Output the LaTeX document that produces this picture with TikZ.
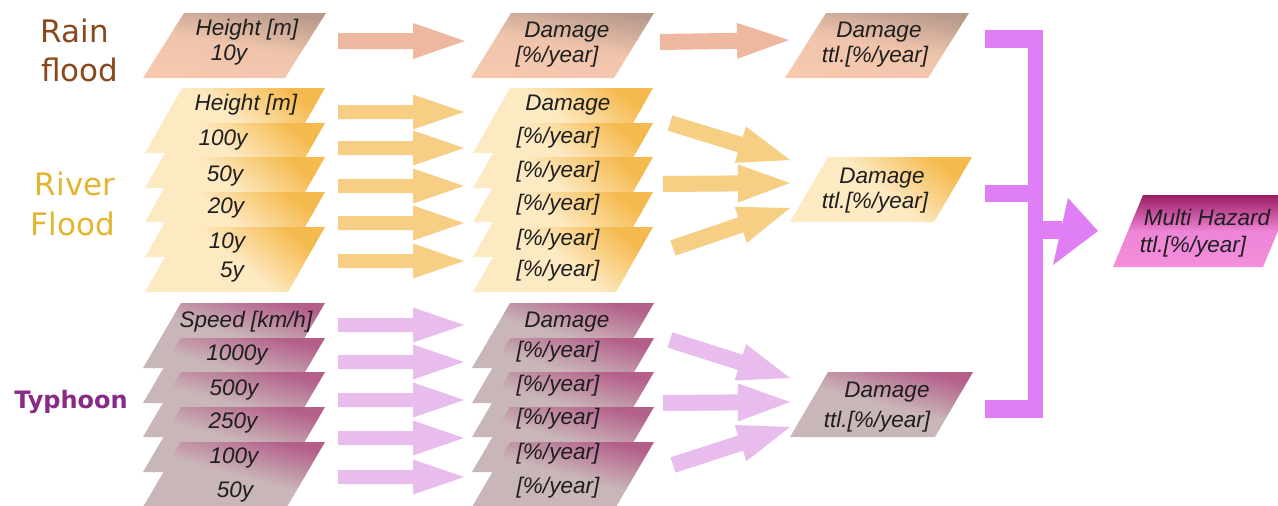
\documentclass[tikz,border=0pt]{standalone}
\usepackage{fontspec}
\setmainfont{Liberation Sans}
\newfontfamily\hazardfont{DejaVu Sans}
\usetikzlibrary{calc}

\definecolor{rainTop}{HTML}{B89A8C}
\definecolor{rainBot}{HTML}{F6C9AF}
\definecolor{rainArrow}{HTML}{EDB7A0}
\definecolor{rainLabel}{HTML}{8A481C}
\definecolor{riverTop}{HTML}{F5BA4E}
\definecolor{riverBot}{HTML}{FDE9C2}
\definecolor{riverArrow}{HTML}{F6CE84}
\definecolor{riverLabel}{HTML}{E4B52E}
\definecolor{typhTop}{HTML}{B45E8A}
\definecolor{typhBot}{HTML}{C9B6B8}
\definecolor{typhArrow}{HTML}{E8BDEE}
\definecolor{typhLabel}{HTML}{8A2A88}
\definecolor{multiTop}{HTML}{9A1C62}
\definecolor{multiMid}{HTML}{EE84D6}
\definecolor{multiBot}{HTML}{F38EDC}
\definecolor{bracketCol}{HTML}{E07EF5}
\definecolor{boxText}{HTML}{1E1E1E}

% slanted box: #1 name, #2 style, #3 top-left x, #4 top y, #5 width, #6 height, #7 slant
\newcommand{\slab}[7]{%
  \path[#2] (#3,#4) -- ++(#5,0) -- ++(-#7,#6) -- ++(-#5,0) -- cycle;
  \coordinate (#1) at ($(#3,#4)+(#5/2-#7/2,#6/2)$);}

% block arrow: #1 style, #2 tail, #3 tip, #4 stem half width, #5 head half width, #6 head length
\newcommand{\blockarrow}[6]{%
  \coordinate (ba-back) at ($(#3)!#6!(#2)$);
  \fill[#1] ($(#2)!#4!90:(#3)$) -- ($(ba-back)!#4!90:(#3)$) -- ($(ba-back)!#5!90:(#3)$)
    -- (#3) -- ($(ba-back)!#5!-90:(#3)$) -- ($(ba-back)!#4!-90:(#3)$)
    -- ($(#2)!#4!-90:(#3)$) -- cycle;}

\begin{document}
\begin{tikzpicture}[x=1pt,y=-1pt,
  rainbox/.style={top color=rainTop,bottom color=rainBot,middle color=rainBot!90!rainTop,shading angle=-10},
  riverbox/.style={top color=riverTop,bottom color=riverBot,middle color=riverBot,shading angle=-40},
  typhbox/.style={top color=typhTop,bottom color=typhBot,middle color=typhBot,shading angle=-15},
  multibox/.style={top color=multiTop,bottom color=multiBot,middle color=multiMid},
  boxtxt/.style={font=\fontsize{22.5}{24}\selectfont\itshape,text=boxText,inner sep=0pt},
  hazard/.style={font=\hazardfont\fontsize{31}{33}\selectfont,anchor=base,inner sep=0pt},
]
\clip (0,0) rectangle (1278,506);
\fill[white] (0,0) rectangle (1278,506);

% ---------- rain flood ----------
\slab{rb1}{rainbox}{184}{13}{142}{65}{41}
\slab{rb2}{rainbox}{511}{13}{143}{65}{40}
\slab{rb3}{rainbox}{826}{13}{143}{65}{41}

% ---------- river flood stacks ----------
\foreach \y [count=\i] in {88,123,157,192,227}{
  \slab{fa\i}{riverbox}{182}{\y}{143}{65}{37}
  \slab{fb\i}{riverbox}{510}{\y}{143}{65}{37}
}
\slab{fc}{riverbox}{828}{157}{144}{65}{38}

% ---------- typhoon stacks ----------
\foreach \y [count=\i] in {303,338,372,407,442}{
  \slab{ta\i}{typhbox}{181}{\y}{144}{65}{38}
  \slab{tb\i}{typhbox}{510}{\y}{144}{65}{38}
}
\slab{tc}{typhbox}{828}{372}{145}{65}{38}

% ---------- multi hazard ----------
\slab{mh}{multibox}{1143}{195}{150}{72}{30}

% ---------- arrow end points ----------
\coordinate (r1s) at (338,41);  \coordinate (r1e) at (465,41);
\coordinate (r2s) at (660,42);  \coordinate (r2e) at (789,40);
\foreach \y [count=\i] in {112,148,186,223,261}{
  \coordinate (fs\i) at (338,\y); \coordinate (fe\i) at (464,\y);
}
\coordinate (fm1s) at (670,123); \coordinate (fm1e) at (790,160);
\coordinate (fm2s) at (663,184); \coordinate (fm2e) at (790,183);
\coordinate (fm3s) at (673,248); \coordinate (fm3e) at (790,208);
\foreach \y [count=\i] in {325,362,400,438,477}{
  \coordinate (ts\i) at (338,\y); \coordinate (te\i) at (464,\y);
}
\coordinate (tm1s) at (670,340); \coordinate (tm1e) at (790,378);
\coordinate (tm2s) at (663,403); \coordinate (tm2e) at (790,402);
\coordinate (tm3s) at (673,465); \coordinate (tm3e) at (790,427);

% ---------- arrows ----------
\blockarrow{rainArrow}{r1s}{r1e}{8pt}{18pt}{52pt}
\blockarrow{rainArrow}{r2s}{r2e}{8pt}{18pt}{52pt}
\foreach \i in {1,...,5}{
  \blockarrow{riverArrow}{fs\i}{fe\i}{7pt}{17.5pt}{51pt}
  \blockarrow{typhArrow}{ts\i}{te\i}{7pt}{17.5pt}{51pt}
}
\foreach \i in {1,2,3}{
  \blockarrow{riverArrow}{fm\i s}{fm\i e}{8pt}{19pt}{52pt}
  \blockarrow{typhArrow}{tm\i s}{tm\i e}{8pt}{19pt}{52pt}
}

% ---------- collecting bracket ----------
\coordinate (brTop) at (985,30);
\coordinate (brMid) at (985,185);
\coordinate (brBot) at (985,400);
\fill[bracketCol] (brTop) rectangle (1043,48);
\fill[bracketCol] (brMid) rectangle (1043,202);
\fill[bracketCol] (brBot) rectangle (1043,418);
\fill[bracketCol] (1028,30) rectangle (1043,418);
\fill[bracketCol] (1043,221) rectangle (1062,239);
\coordinate (mhTip) at (1098,231);
\fill[bracketCol] (1068,198) -- (mhTip) -- (1053,265) -- cycle;

% ---------- box texts ----------
\node[boxtxt] (t-rh) at (247,30) {Height [m]};
\node[boxtxt] (t-r10) at (229,55) {10y};
\node[boxtxt] (t-rd) at (567,32) {Damage};
\node[boxtxt] (t-rp) at (557,57) {[\%/year]};
\node[boxtxt] (t-rtd) at (879,32) {Damage};
\node[boxtxt] (t-rtp) at (875,57) {ttl.[\%/year]};

\node[boxtxt] (t-fh) at (246,105) {Height [m]};
\node[boxtxt] (t-f100) at (223,140) {100y};
\node[boxtxt] (t-f50) at (225,176) {50y};
\node[boxtxt] (t-f20) at (226,208) {20y};
\node[boxtxt] (t-f10) at (227,243) {10y};
\node[boxtxt] (t-f5) at (232,272) {5y};
\node[boxtxt] (t-fd) at (568,105) {Damage};
\foreach \y [count=\i] in {138,172,205,240,271}{
  \node[boxtxt] (t-fp\i) at (558,\y) {[\%/year]};
}
\node[boxtxt] (t-ftd) at (882,178) {Damage};
\node[boxtxt] (t-ftp) at (875,203) {ttl.[\%/year]};

\node[boxtxt] (t-ts) at (246,322) {Speed [km/h]};
\node[boxtxt] (t-t1000) at (237,355) {1000y};
\node[boxtxt] (t-t500) at (234,390) {500y};
\node[boxtxt] (t-t250) at (233,423) {250y};
\node[boxtxt] (t-t100) at (234,458) {100y};
\node[boxtxt] (t-t50) at (235,492) {50y};
\node[boxtxt] (t-td) at (567,322) {Damage};
\foreach \y [count=\i] in {352,386,419,454,488}{
  \node[boxtxt] (t-tp\i) at (558,\y) {[\%/year]};
}
\node[boxtxt] (t-ttd) at (887,392) {Damage};
\node[boxtxt] (t-ttp) at (877,422) {ttl.[\%/year]};

\node[boxtxt] (t-mh) at (1207,217) {Multi Hazard};
\node[boxtxt] (t-mp) at (1193,247) {ttl.[\%/year]};

% ---------- hazard labels ----------
\node[hazard,text=rainLabel] (l-rain) at (75,42) {Rain};
\node[hazard,text=rainLabel] (l-flood) at (80,81) {flood};
\node[hazard,text=riverLabel] (l-river) at (75,195) {River};
\node[hazard,text=riverLabel] (l-rflood) at (73,235) {Flood};
\node[hazard,text=typhLabel,font=\hazardfont\bfseries\fontsize{24}{26}\selectfont] (l-typh) at (71,408) {Typhoon};
\end{tikzpicture}
\end{document}
